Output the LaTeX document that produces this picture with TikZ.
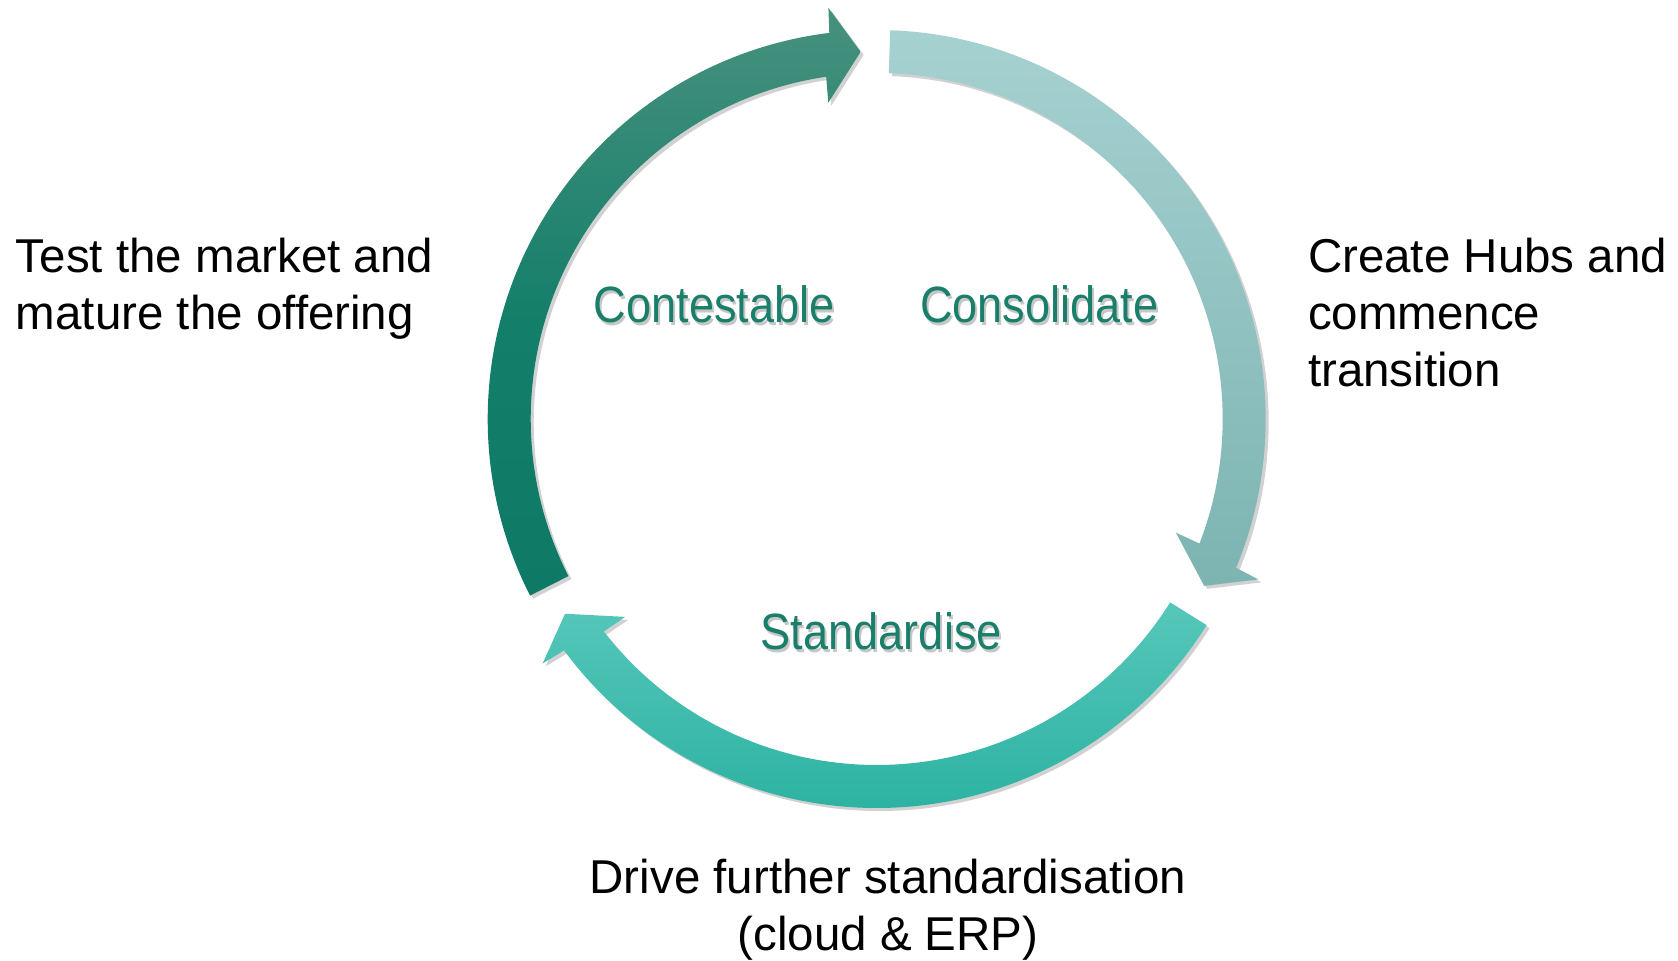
\documentclass[tikz,border=0pt]{standalone}
\usepackage{fontspec}
\setmainfont{Liberation Sans}
\newfontfamily\stagefont{Liberation Sans}[FakeStretch=0.885]
\usetikzlibrary{shadows}

\definecolor{leafdark}{HTML}{0E7A65}
\definecolor{leafmid}{HTML}{137E69}
\definecolor{leaftop}{HTML}{47917E}
\definecolor{mistTop}{HTML}{A6D1D1}
\definecolor{mistMid}{HTML}{8CC6C6}
\definecolor{mistLow}{HTML}{7CB4B1}
\definecolor{seaTop}{HTML}{56C7BB}
\definecolor{seaLow}{HTML}{2CB2A1}
\definecolor{stagegreen}{HTML}{1A7F6A}

% dark green stays dark over the lower half, lightens towards the head
\pgfdeclareverticalshading{leafshade}{100bp}{color(0bp)=(leafdark); color(25bp)=(leafdark);
    color(48bp)=(leafmid); color(75bp)=(leaftop); color(100bp)=(leaftop)}

% label text with a soft grey copy underneath
\newcommand{\embossed}[1]{\makebox[0pt][l]{\color{black!22}\raisebox{-1.5pt}{\kern1pt #1}}#1}

\begin{document}
\begin{tikzpicture}[
    x=0.5pt, y=0.5pt,
    every node/.style={inner sep=0pt, outer sep=0pt},
    note/.style={font=\fontsize{23.75}{28.5}\selectfont, text=black},
    stage/.style={font=\stagefont\fontsize{25.5}{30}\selectfont, text=stagegreen, anchor=base},
    ring/.style={drop shadow={shadow xshift=1.5pt, shadow yshift=-1.5pt, fill=black, opacity=0.18}}
]

% page
\path[fill=white, use as bounding box] (0,0) rectangle (1678,960);

% centre of the cycle
\coordinate (hub) at (876.7,541);

\begin{scope}[shift={(hub)}]
% Contestable arrow (left, up to the top)
\shade[ring, shading=leafshade]
    (207:389) arc[start angle=207, end angle=97, radius=389]
    -- (96.7:414) -- (92.5:367.5) -- (98.7:320) -- (98.4:346)
    arc[start angle=98.4, end angle=207, radius=346] -- cycle;

% Consolidate arrow (top, down the right side)
\shade[ring, top color=mistTop, middle color=mistMid, bottom color=mistLow]
    (88:389) arc[start angle=88, end angle=-22.5, radius=389]
    -- (-22.8:414) -- (-27:367.5) -- (-20.8:320) -- (-21.1:346)
    arc[start angle=-21.1, end angle=88, radius=346] -- cycle;

% Standardise arrow (bottom, right to left)
\shade[ring, top color=seaTop, bottom color=seaLow]
    (328:389) arc[start angle=328, end angle=216.5, radius=389]
    -- (216.2:414) -- (212:367.5) -- (218.2:320) -- (217.9:346)
    arc[start angle=217.9, end angle=328, radius=346] -- cycle;
\end{scope}

% Stage names inside the ring
\node[stage] (contest) at (714.4,637) {\embossed{Contestable}};
\node[stage] (consol) at (1039.2,637) {\embossed{Consolidate}};
\node[stage] (standard) at (881.3,310.4) {\embossed{Standardise}};

% Notes around the ring
\node[note, anchor=north west, align=left] (market) at (16,722.2)
    {Test the market and\\mature the offering};
\node[note, anchor=north west, align=left] (hubs) at (1308,722.2)
    {Create Hubs and\\commence\\transition};
\node[note, anchor=north, align=center] (further) at (888,100.6)
    {Drive further standardisation\\(cloud \& ERP)};

\end{tikzpicture}
\end{document}
